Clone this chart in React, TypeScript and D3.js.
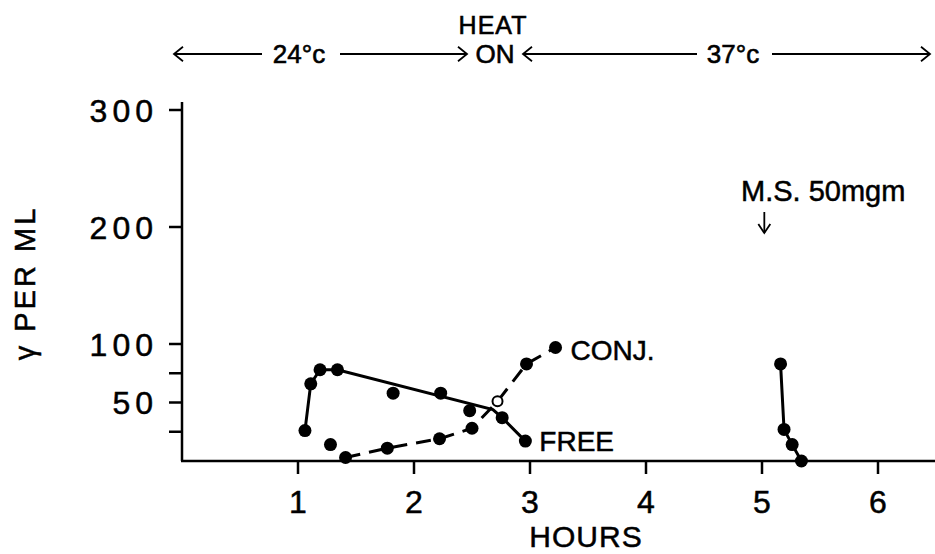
import React from "react";
import * as d3 from "d3";

// hours vs gamma per ml
const freeHours = [1.06, 1.11, 1.19, 1.34, 1.82, 2.23, 2.48, 2.76, 2.96];
const freeValues = [26, 66, 78, 78, 58, 58, 43, 37, 17];
// the solid line is a drawn trend, not point to point
const freeLineHours = [1.06, 1.11, 1.19, 1.34, 2.68, 2.76, 2.96];
const freeLineValues = [26, 66, 78, 78, 44, 37, 17];

const conjHours = [1.28, 1.41, 1.77, 2.22, 2.5, 2.97, 3.22];
const conjValues = [14, 3, 11, 19, 28, 83, 97];
const conjLineHours = [1.41, 1.77, 2.22, 2.5, 2.72, 2.97, 3.22];
const conjLineValues = [3, 11, 19, 28, 51, 83, 97];
const conjOpenHours = [2.72];
const conjOpenValues = [51];

const afterHours = [5.16, 5.19, 5.26, 5.34];
const afterValues = [83, 27, 14, 0];

const xTicks = [1, 2, 3, 4, 5, 6];
const yLabelTicks = [50, 100, 200, 300];
const yTicks = [25, 50, 75, 100, 200, 300];
const msDoseHour = 5.02;

const W = 935;
const H = 554;
const FONT = "'Liberation Sans', Arial, sans-serif";

const x = d3.scaleLinear().domain([0, 6]).range([182, 878]);
const y = d3.scaleLinear().domain([0, 300]).range([461, 110]);

const zip = (xs: number[], ys: number[]) => xs.map((h, i) => [h, ys[i]] as [number, number]);

const lineGen = d3
  .line<[number, number]>()
  .x((d) => x(d[0]))
  .y((d) => y(d[1]));

function Arrow({x1, x2, yy}: {x1: number; x2: number; yy: number}) {
  // arrow head at x2
  const dir = x2 > x1 ? 1 : -1;
  const s = 9;
  return (
    <g stroke="black" strokeWidth={1.8} fill="none">
      <line x1={x1} x2={x2} y1={yy} y2={yy} />
      <path d={`M${x2 - dir * s},${yy - s * 0.8}L${x2},${yy}L${x2 - dir * s},${yy + s * 0.8}`} />
    </g>
  );
}

export default function App() {
  const free = zip(freeHours, freeValues);
  const conj = zip(conjHours, conjValues);
  const after = zip(afterHours, afterValues);
  const xm = x(msDoseHour);

  return (
    <svg
      width={W}
      height={H}
      style={{position: "absolute", left: 0, top: 0, background: "white"}}
      fontFamily={FONT}
    >
      {/* header */}
      <g fill="black" stroke="black" strokeWidth={0.6} fontSize={25}>
        <text x={493} y={34} textAnchor="middle" letterSpacing={1}>HEAT</text>
        <text x={495} y={63} textAnchor="middle" fontSize={26}>ON</text>
        <text x={299} y={63} textAnchor="middle" fontSize={26}>24°c</text>
        <text x={733} y={63} textAnchor="middle" fontSize={26}>37°c</text>
      </g>
      <Arrow x1={262} x2={174} yy={54} />
      <Arrow x1={340} x2={467} yy={54} />
      <Arrow x1={697} x2={523} yy={54} />
      <Arrow x1={772} x2={930} yy={54} />

      {/* axes */}
      <g stroke="black" strokeWidth={2.5} fill="none">
        <line x1={x(0)} x2={x(0)} y1={y(300) - 8} y2={y(0)} />
        <line x1={x(0) - 1} x2={W} y1={y(0)} y2={y(0)} />
        {yTicks.map((t) => (
          <line key={"yt" + t} x1={x(0) - 13} x2={x(0)} y1={y(t)} y2={y(t)} />
        ))}
        {xTicks.map((t) => (
          <line key={"xt" + t} x1={x(t)} x2={x(t)} y1={y(0)} y2={y(0) + 13} />
        ))}
      </g>
      <g fill="black" stroke="black" strokeWidth={0.5} fontSize={32}>
        {yLabelTicks.map((t) => (
          <text key={"yl" + t} x={x(0) - 24} y={y(t)} dy="0.36em" textAnchor="end" letterSpacing={5}>
            {t}
          </text>
        ))}
        {xTicks.map((t) => (
          <text key={"xl" + t} x={x(t)} y={513} textAnchor="middle">
            {t}
          </text>
        ))}
        <text x={586} y={547} textAnchor="middle" fontSize={30} letterSpacing={1}>
          HOURS
        </text>
        <text
          transform="translate(35,283) rotate(-90)"
          textAnchor="middle"
          fontSize={29}
          letterSpacing={3}
        >
          γ PER ML
        </text>
      </g>

      {/* series lines */}
      <g fill="none" stroke="black" strokeWidth={3}>
        <path d={lineGen(zip(freeLineHours, freeLineValues)) || ""} />
        <path d={lineGen(zip(conjLineHours, conjLineValues)) || ""} strokeDasharray="15 9" />
        <path d={lineGen(after) || ""} />
      </g>

      {/* points */}
      <g fill="black">
        {free.map((d, i) => (
          <circle key={"f" + i} cx={x(d[0])} cy={y(d[1])} r={6.5} />
        ))}
        {conj.map((d, i) => (
          <circle key={"c" + i} cx={x(d[0])} cy={y(d[1])} r={6.5} />
        ))}
        {after.map((d, i) => (
          <circle key={"a" + i} cx={x(d[0])} cy={y(d[1])} r={6.5} />
        ))}
      </g>
      {zip(conjOpenHours, conjOpenValues).map((d, i) => (
        <circle key={"o" + i} cx={x(d[0])} cy={y(d[1])} r={5} fill="white" stroke="black" strokeWidth={2} />
      ))}

      {/* series labels */}
      <g fill="black" stroke="black" strokeWidth={0.5} fontSize={28}>
        <text x={x(3.22) + 15} y={y(97) + 12}>CONJ.</text>
        <text x={x(2.96) + 14} y={y(17) + 10}>FREE</text>
        <text x={741} y={201} fontSize={29}>M.S. 50mgm</text>
      </g>
      <g stroke="black" strokeWidth={1.8} fill="none">
        <line x1={xm} x2={xm} y1={212} y2={233} />
        <path d={`M${xm - 6},${224}L${xm},${233}L${xm + 6},${224}`} />
      </g>
    </svg>
  );
}
